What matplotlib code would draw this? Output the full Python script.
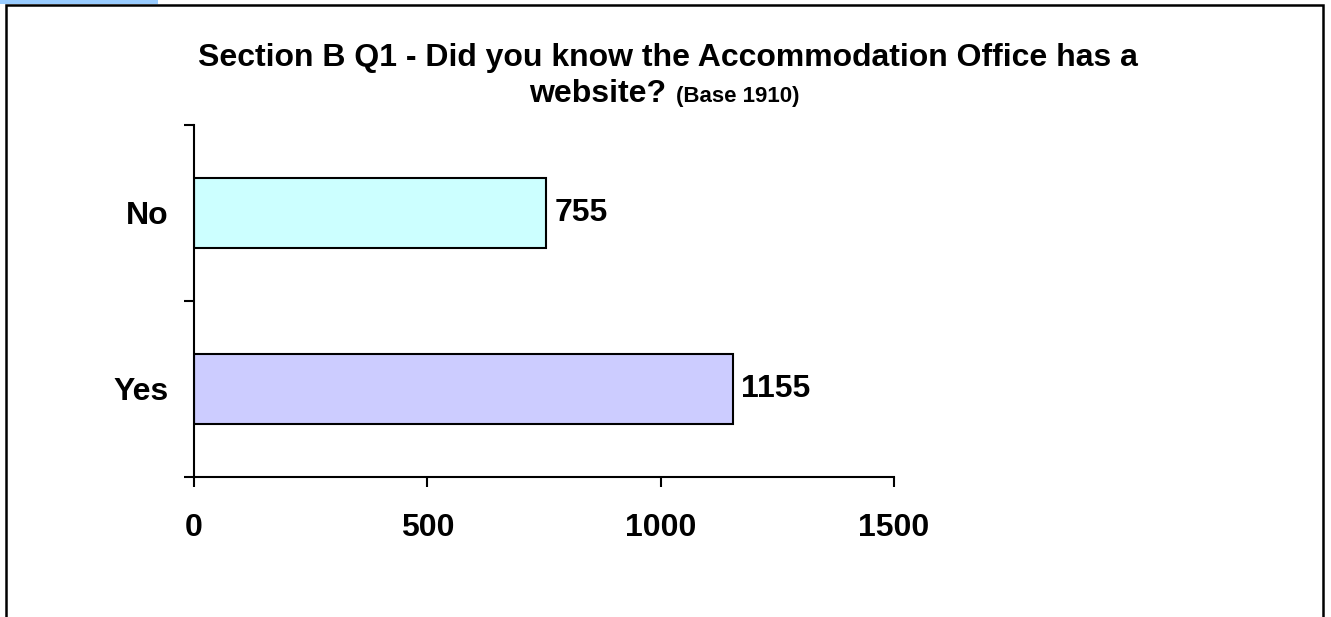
import matplotlib
matplotlib.use("Agg")
import matplotlib.pyplot as plt
from matplotlib.patches import Rectangle

categories = ["Yes", "No"]
counts = [1155, 755]
bar_colors = ["#CCCCFF", "#CCFFFF"]
x_ticks = [0, 500, 1000, 1500]

plt.rcParams["font.family"] = ["Liberation Sans", "DejaVu Sans"]
plt.rcParams["font.weight"] = "bold"

fig = plt.figure(figsize=(13.31, 6.17), dpi=100)
ax = fig.add_axes([194 / 1331, 1 - 477 / 617, 700 / 1331, 352 / 617])

ypos = list(range(len(categories)))
bars = ax.barh(ypos, counts, height=0.4, color=bar_colors,
               edgecolor="black", linewidth=1.5)
ax.bar_label(bars, labels=[str(c) for c in counts], padding=6,
             fontsize=23, fontweight="bold")

ax.set_xlim(0, 1500)
ax.set_ylim(-0.5, len(categories) - 0.5)
ax.set_xticks(x_ticks)
ax.set_xticklabels([str(t) for t in x_ticks], fontsize=23, fontweight="bold")
ax.set_yticks(ypos)
ax.set_yticklabels(categories, fontsize=23, fontweight="bold")
ax.set_yticks([-0.5, 0.5, 1.5], minor=True)
ax.tick_params(axis="y", which="major", length=0, pad=18.5)
ax.tick_params(axis="y", which="minor", length=7, width=1.5, direction="out")
ax.tick_params(axis="x", length=7, width=1.5, direction="out", pad=19)

for s in ["top", "right"]:
    ax.spines[s].set_visible(False)
for s in ["left", "bottom"]:
    ax.spines[s].set_linewidth(1.5)

# title, two lines, the base note smaller
fig.text(668 / 1331, 1 - 66 / 617,
         "Section B Q1 - Did you know the Accommodation Office has a",
         ha="center", va="baseline", fontsize=23, fontweight="bold")
fig.text(666 / 1331, 1 - 102 / 617, "website?", ha="right", va="baseline",
         fontsize=23, fontweight="bold")
fig.text(676 / 1331, 1 - 102 / 617, "(Base 1910)", ha="left", va="baseline",
         fontsize=16, fontweight="bold")

# outer frame and blue tab
fig.patches.append(Rectangle((6 / 1331, -0.05), 1317 / 1331, 1.05 - 5 / 617,
                             transform=fig.transFigure, fill=False,
                             edgecolor="black", linewidth=1.8))
fig.patches.append(Rectangle((0, 1 - 4 / 617), 158 / 1331, 4 / 617,
                             transform=fig.transFigure, facecolor="#99CCFF",
                             edgecolor="none"))

fig.savefig("out.png", dpi=100)
